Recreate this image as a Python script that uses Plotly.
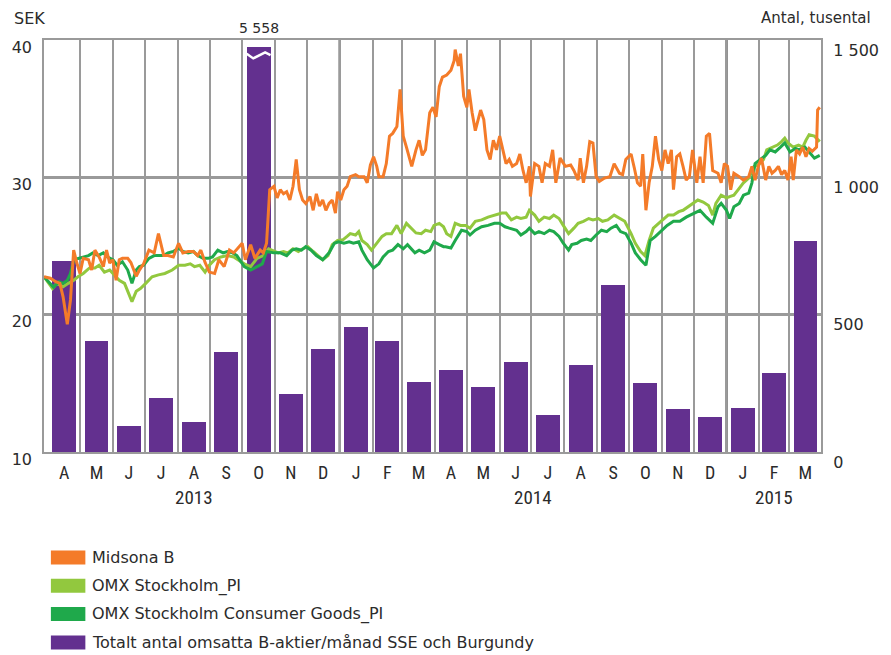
import plotly.graph_objects as go
import pandas as pd

# ---------------- data ----------------
month_letters = ["A", "M", "J", "J", "A", "S", "O", "N", "D",
                 "J", "F", "M", "A", "M", "J", "J", "A", "S", "O", "N", "D",
                 "J", "F", "M"]
years = ["2013", "2014", "2015"]
first_month = "2013-04-01"
# Totalt antal omsatta B-aktier/månad (tusental)
volume = [695, 404, 95, 197, 109, 364, 5558, 211, 375,
          455, 404, 255, 299, 237, 328, 135, 317, 608, 251, 157, 127,
          160, 288, 768]
right_ticks = [0, 500, 1000, 1500]
right_ticktext = ["0", "500", "1 000", "1 500"]
left_ticks = [10, 20, 30, 40]

base_date = "2013-03-28"   # day 0 of the daily series below

midsona_days = [0, 6, 11, 15, 18, 22, 25, 28, 31, 34, 37, 42, 45, 48, 52, 56, 59, 62, 65, 68, 71, 74, 79, 82, 87, 90,
                94, 99, 104, 108, 113, 117, 122, 127, 131, 136, 141, 145, 148, 152, 156, 161, 165, 170, 175, 179,
                187, 190, 195, 199, 204, 207, 210, 213, 217, 220, 223, 226, 229, 232, 235, 238, 241, 244, 247, 251,
                254, 257, 260, 263, 266, 269, 272, 275, 277, 280, 283, 286, 289, 294, 297, 302, 305, 308, 311, 314,
                316, 320, 323, 326, 329, 333, 336, 339, 342, 347, 351, 354, 357, 360, 364, 367, 370, 373, 376,
                380, 384, 387, 388, 391, 393, 396, 399, 401, 404, 407, 412, 415, 418, 421, 424, 427, 430, 433, 436,
                439, 442, 446, 449, 452, 455, 458, 459, 463, 467, 470, 473, 477, 480, 483, 487, 492, 497, 500, 504,
                506, 509, 512, 515, 518, 521, 524, 529, 534, 538, 543, 546, 549, 554, 557, 560, 563,
                565, 568, 571, 574, 577, 580, 583, 586, 589, 592, 594, 597, 600, 603, 606, 609, 612, 616, 619, 622,
                625, 628, 631, 636, 639, 642, 645, 648, 651, 656, 660, 665, 668, 671, 674, 677, 681, 684, 687, 690,
                693, 696, 699, 702, 705, 707, 710, 713, 716, 719, 722, 725, 729, 730, 732]
midsona = [22.76, 22.65, 22.4, 22.28, 21.3, 19.3, 21.07, 24.7, 23.76, 23.0, 24.1, 24.0, 23.25, 24.7, 24.2, 23.5, 24.7,
           23.76, 24.0, 22.5, 24.0, 24.1, 24.1, 23.8, 22.8, 23.25, 23.7, 24.7, 24.5, 25.9, 24.3, 24.3, 24.2, 25.2,
           24.5, 24.6, 24.6, 24.3, 24.7, 23.8, 23.1, 23.0, 24.0, 23.5, 24.7, 24.5,
           25.2, 24.0, 25.1, 24.1, 24.7, 24.5, 25.2, 29.1, 29.35, 28.5, 29.1, 28.8, 28.95, 28.35, 29.35, 31.3, 29.1,
           28.35, 28.1, 28.6, 27.6, 28.8, 27.9, 28.35, 27.6, 28.1, 28.35, 27.4, 28.95, 28.35, 29.1, 29.35, 30.05,
           30.2, 30.05, 30.05, 29.6, 30.9, 31.5, 30.8, 30.05, 30.05, 31.0, 33.0, 33.2, 33.7, 36.4, 33.0, 32.2, 30.8,
           32.0, 32.7, 31.6, 32.0, 34.7, 35.1, 34.4, 36.6, 37.3,
           37.45, 37.8, 38.5, 39.3, 38.1, 39.0, 35.9, 35.1, 36.4, 34.7, 33.4, 34.9, 34.2, 32.0, 31.3, 32.7, 32.0,
           33.0, 32.0, 31.0, 31.3, 30.8, 31.0, 31.7, 30.5, 29.6, 30.8, 28.6, 31.0, 30.8, 29.6, 31.0, 30.8, 32.0,
           29.6, 31.4, 30.8, 30.9, 30.5, 29.8, 31.4, 29.6, 30.8, 32.6, 32.5, 30.05, 29.7, 29.95, 30.05, 31.0, 30.3,
           30.2, 31.3, 31.7, 30.7, 29.6, 29.35,
           31.7, 27.6, 29.6, 30.8, 33.0, 31.3, 30.5, 32.0, 31.0, 32.0, 29.1, 31.5, 31.7, 30.8, 29.8, 30.05, 32.0,
           29.6, 31.5, 29.6, 33.0, 33.2, 30.5, 30.3, 29.6, 31.0, 30.8, 29.1, 30.3, 30.05, 29.8, 30.05, 30.8, 29.8,
           30.8, 31.4, 29.8, 30.8, 30.3, 30.5, 30.8, 30.2, 30.5, 29.8, 31.5, 29.8, 32.0, 31.7, 32.2, 31.5, 32.1,
           31.9, 32.2, 34.9, 35.1]

omx_days = [0, 4, 8, 12, 18, 23, 28, 32, 37, 43, 48, 52, 57, 62, 66, 71, 76, 80, 83, 87, 91, 96, 102, 108, 114, 121,
            127, 133, 138, 142, 147, 152, 156, 161, 167, 173, 179,
            189, 195, 201, 207, 212, 217, 221, 226, 230, 235, 240, 244, 249, 254, 258, 263, 268, 272, 277, 282, 286,
            289, 294, 297, 300, 305, 309, 314, 319, 323, 328, 333, 337, 342, 347, 351, 356, 360, 365, 368, 373, 377,
            380, 384, 388, 393, 398, 402, 407, 413, 419, 425, 432, 436, 441, 446, 450, 455, 458, 463, 467, 472, 477,
            481, 486, 490, 495, 500, 504, 509, 514, 518, 523, 527, 532, 538, 543, 548,
            554, 558, 563, 567, 571, 575, 580, 585, 589, 594, 599, 603, 608, 613, 617, 622, 627, 631, 634, 639, 644,
            647, 651, 656, 660, 665, 670, 674, 679, 682, 687, 692, 696, 699, 702, 707, 712, 716, 719, 722, 727, 732]
omx = [22.76, 22.28, 21.9, 22.28, 22.04, 22.28, 22.5, 22.76, 23.0, 23.4, 23.4, 23.6, 23.1, 23.25, 22.9, 22.5, 22.28,
       21.55, 20.95, 21.7, 21.9, 22.28, 22.76, 22.9, 23.0, 23.25, 23.6, 23.6, 23.7, 23.5, 23.6, 23.1, 23.6, 24.0,
       24.2, 24.3, 24.2,
       23.7, 23.5, 24.1, 24.3, 24.8, 24.6, 24.5, 24.6, 24.5, 24.8, 24.6, 24.8, 24.95, 24.6, 24.3, 24.0, 24.3, 25.1,
       25.4, 25.45, 25.7, 25.9, 25.8, 26.05, 25.4, 25.1, 24.7, 25.2, 25.7, 25.9, 25.9, 26.5, 25.9, 26.65, 26.3,
       25.95, 25.9, 26.15, 26.05, 26.5, 26.65, 26.4,
       25.9, 25.7, 26.65, 26.5, 26.5, 26.3, 26.8, 26.9, 27.1, 27.25, 27.4, 27.4, 26.9, 27.1, 27.0, 27.1, 27.6,
       27.25, 26.8, 27.1, 27.0, 27.25, 27.0, 26.5, 25.9, 26.3, 26.65, 26.8, 27.0, 26.9, 27.0, 26.8, 26.9, 27.25,
       27.0, 26.8,
       25.9, 25.2, 24.6, 24.3, 25.4, 26.3, 26.65, 27.0, 27.25, 27.25, 27.5, 27.6, 27.85, 28.1, 28.35, 28.2, 27.95,
       27.25, 28.1, 28.7, 28.5, 28.6, 28.7, 29.2, 29.6, 29.95, 30.8, 30.9, 31.3, 32.0, 32.2, 32.35, 32.6, 32.85,
       32.5, 32.2, 32.35, 32.2, 32.7, 33.1, 33.0, 32.6]

cons_days = [0, 4, 9, 14, 18, 22, 25, 28, 32, 37, 42, 46, 51, 56, 60, 65, 69, 74, 79, 83, 87, 90, 94, 99, 104, 108,
             113, 117, 122, 127, 131, 136, 141, 145, 150, 155, 159, 164, 169, 173, 178, 182,
             189, 195, 201, 206, 210, 217, 223, 229, 234, 238, 243, 247, 252, 257, 263, 269, 274, 278, 283, 288, 292,
             297, 300, 305, 308, 311, 316, 320, 325, 329, 334, 339, 343, 350, 354, 359, 364, 368, 373, 377,
             379, 384, 388, 394, 399, 402, 407, 413, 419, 425, 430, 435, 439, 446, 450, 455, 458, 463, 467, 472, 477,
             481, 486, 490, 495, 498, 503, 507, 512, 516, 521, 526, 531, 535, 540, 544, 549,
             554, 558, 563, 568, 572, 577, 582, 588, 594, 600, 606, 613, 619, 625, 631, 636, 639, 644, 647, 651, 656,
             660, 665, 668, 671, 676, 681, 685, 690, 695, 699, 704, 709, 713, 718, 722, 727, 732]
cons = [22.76, 22.4, 22.0, 22.4, 22.28, 22.5, 23.0, 24.0, 24.1, 24.2, 24.3, 24.5, 24.3, 24.5, 24.2, 24.0, 23.6,
        23.85, 23.25, 22.28, 23.25, 23.5, 23.6, 24.1, 24.3, 24.3, 24.3, 24.5, 24.6, 24.85, 24.6, 24.5, 24.6, 24.3,
        24.1, 24.1, 24.2, 24.7, 24.5, 24.6, 24.5, 24.3,
        23.5, 23.25, 23.5, 23.7, 24.6, 24.5, 24.5, 24.3, 24.7, 24.8, 24.7, 24.95, 24.7, 24.3, 24.0, 24.5, 25.2,
        25.3, 25.2, 25.3, 25.2, 25.3, 24.7, 24.0, 23.7, 23.4, 23.7, 24.2, 24.6, 24.7, 25.1, 24.8, 25.1, 24.5, 24.7,
        24.5, 24.7, 25.3, 25.1, 24.95,
        24.95, 24.85, 25.4, 26.15, 26.05, 25.8, 26.15, 26.4, 26.5, 26.65, 26.65, 26.4, 26.3, 26.15, 25.8, 26.05,
        26.3, 25.9, 26.05, 25.9, 26.15, 26.05, 25.7, 25.2, 24.7, 25.1, 25.2, 25.4, 25.5, 25.4, 25.8, 26.15, 26.05,
        26.3, 26.5, 26.05, 25.9,
        25.2, 24.5, 24.0, 23.6, 25.4, 25.7, 26.05, 26.5, 26.8, 26.8, 27.1, 27.4, 27.6, 27.1, 26.65, 27.85, 28.1,
        27.6, 27.0, 27.85, 28.1, 28.7, 28.85, 29.6, 31.0, 31.3, 31.6, 32.0, 31.85, 32.2, 32.5, 31.85, 32.1, 32.0,
        32.2, 31.85, 31.4, 31.6]

# ---------------- styling ----------------
C_ORANGE = "#f47b29"
C_LIGHT = "#92c83e"
C_DARK = "#1fa94b"
C_PURPLE = "#63308f"
C_GRID = "#9a9a9a"
C_TEXT = "#2b2b2b"
FONT = "DejaVu Sans, Open Sans, sans-serif"
NARROW = "Liberation Sans Narrow, Roboto Condensed, Arial Narrow, sans-serif"

W, H = 891, 655
ML, MR, MT, MB = 44, 58, 40, 203
PW, PH = W - ML - MR, H - MT - MB


def px_x(px):
    return (px - ML) / PW


def px_y(py):
    return (H - MB - py) / PH


base = pd.Timestamp(base_date)
months = pd.date_range(first_month, periods=len(volume), freq="MS")
mids = months + pd.to_timedelta(months.days_in_month / 2, unit="D")

fig = go.Figure()

# bars (primary y = right axis, thousands)
bar_cap = 1475
fig.add_trace(go.Bar(
    x=mids, y=[min(v, bar_cap) for v in volume], yaxis="y",
    marker=dict(color=C_PURPLE, line=dict(width=0)),
    width=22.5 * 86400000, name="Totalt antal omsatta B-aktier/månad SSE och Burgundy",
    showlegend=False, hoverinfo="skip"))

# break mark on the capped bar
big = max(range(len(volume)), key=lambda i: volume[i])
hw = pd.Timedelta(days=11.25)
c = mids[big]
fig.add_trace(go.Scatter(
    x=[c - hw, c - hw * 0.45, c + hw * 0.55, c + hw],
    y=[1450, 1433, 1455, 1445], yaxis="y", mode="lines",
    line=dict(color="white", width=2.5), showlegend=False, hoverinfo="skip"))

# lines (y2 = left axis, SEK)
for days, vals, col, name in [
    (omx_days, omx, C_LIGHT, "OMX Stockholm_PI"),
    (cons_days, cons, C_DARK, "OMX Stockholm Consumer Goods_PI"),
    (midsona_days, midsona, C_ORANGE, "Midsona B"),
]:
    fig.add_trace(go.Scatter(
        x=base + pd.to_timedelta(days, unit="D"), y=vals, yaxis="y2",
        mode="lines", line=dict(color=col, width=3), name=name, showlegend=False))

x_start = base
x_end = base + pd.Timedelta(days=733.2)

fig.update_layout(
    width=W, height=H,
    margin=dict(l=ML, r=MR, t=MT, b=MB, pad=0),
    paper_bgcolor="white", plot_bgcolor="white",
    font=dict(family=FONT, size=15, color=C_TEXT),
    showlegend=False,
    bargap=0,
    xaxis=dict(
        type="date", range=[x_start, x_end],
        tickmode="array", tickvals=list(mids), ticktext=month_letters,
        tickfont=dict(family=NARROW, size=18, color=C_TEXT),
        ticks="", showgrid=False, zeroline=False,
        showline=True, linecolor=C_GRID, linewidth=2, mirror=True,
        ticklabelstandoff=3,
        minor=dict(tickmode="array", tickvals=list(months[1:]), showgrid=True,
                   gridcolor=C_GRID, gridwidth=1.5, ticks=""),
        anchor="y",
    ),
    yaxis=dict(
        side="right", range=[0, 1500], tickmode="array",
        tickvals=right_ticks, ticktext=right_ticktext,
        showgrid=True, gridcolor=C_GRID, gridwidth=2.5, zeroline=False,
        showline=True, linecolor=C_GRID, linewidth=2, mirror=True,
        ticks="", ticklabelstandoff=7, ticklabelshift=10,
        tickfont=dict(size=16),
    ),
    yaxis2=dict(
        side="left", overlaying="y", range=[10, 40], tickmode="array",
        tickvals=left_ticks, showgrid=False, zeroline=False, showline=False,
        ticks="", ticklabelstandoff=11, ticklabelshift=7, anchor="x",
        tickfont=dict(size=16),
    ),
)

# year separators
for y in years[1:]:
    fig.add_shape(type="line", xref="x", yref="paper",
                  x0=pd.Timestamp(f"{y}-01-01"), x1=pd.Timestamp(f"{y}-01-01"),
                  y0=0, y1=1, line=dict(color="#1a1a1a", width=2), layer="below")

# year labels
for y in years:
    in_year = [m for m in months if m.year == int(y)]
    start = in_year[0]
    end = in_year[-1] + pd.offsets.MonthEnd(0) + pd.Timedelta(days=1)
    fig.add_annotation(x=start + (end - start) / 2, y=px_y(497), xref="x", yref="paper",
                       text=y, showarrow=False, font=dict(family=NARROW, size=19, color=C_TEXT),
                       xanchor="center", yanchor="middle")

# axis titles
fig.add_annotation(x=px_x(11), y=px_y(18), xref="paper", yref="paper", text="SEK",
                   showarrow=False, xanchor="left", yanchor="middle", font=dict(size=16))
fig.add_annotation(x=px_x(886), y=px_y(18), xref="paper", yref="paper", text="Antal, tusental",
                   showarrow=False, xanchor="right", yanchor="middle", font=dict(size=15))

# value label for capped bar
fig.add_annotation(x=mids[big], y=px_y(28), xref="x", yref="paper",
                   text=f"{volume[big]:,}".replace(",", " "),
                   showarrow=False, xanchor="center", yanchor="middle", font=dict(size=14))

# legend (drawn manually to get wide rectangular swatches)
legend_items = [("Midsona B", C_ORANGE), ("OMX Stockholm_PI", C_LIGHT),
                ("OMX Stockholm Consumer Goods_PI", C_DARK),
                ("Totalt antal omsatta B-aktier/månad SSE och Burgundy", C_PURPLE)]
for k, (label, col) in enumerate(legend_items):
    cy = 557.5 + k * 28.3
    fig.add_shape(type="rect", xref="paper", yref="paper",
                  x0=px_x(51), x1=px_x(86), y0=px_y(cy - 7), y1=px_y(cy + 7),
                  fillcolor=col, line=dict(width=0))
    fig.add_annotation(x=px_x(91), y=px_y(cy), xref="paper", yref="paper", text=label,
                       showarrow=False, xanchor="left", yanchor="middle", font=dict(size=16))

fig.write_html("out.html", post_script="document.body.style.margin='0px';",
               config={"displayModeBar": False})
